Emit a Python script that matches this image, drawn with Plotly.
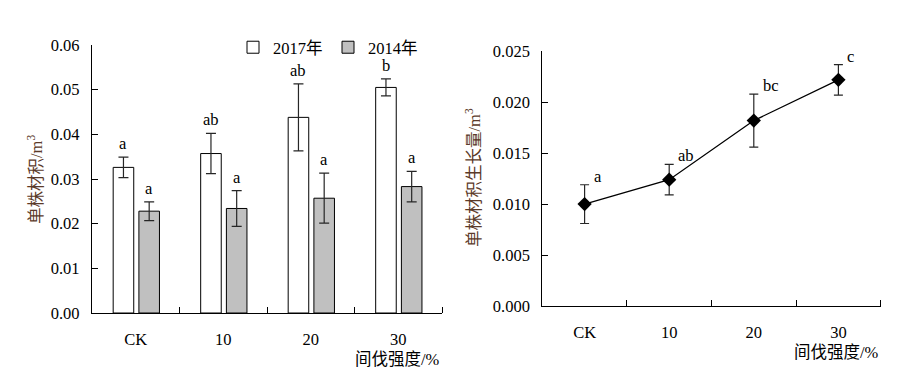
import plotly.graph_objects as go

# ---------------- data ----------------
categories = ["CK", "10", "20", "30"]
vol_2017 = [0.0326, 0.0357, 0.0438, 0.0505]
err_2017 = [0.0023, 0.0045, 0.0075, 0.0019]
vol_2014 = [0.0228, 0.0234, 0.0257, 0.0283]
err_2014 = [0.0021, 0.0040, 0.0056, 0.0034]
letters_2017 = ["a", "ab", "ab", "b"]
letters_2014 = ["a", "a", "a", "a"]

growth = [0.0100, 0.0124, 0.0182, 0.0222]
growth_err = [0.0019, 0.0015, 0.0026, 0.0015]
letters_growth = ["a", "ab", "bc", "c"]

left_yticks = [0.00, 0.01, 0.02, 0.03, 0.04, 0.05, 0.06]
right_yticks = [0.000, 0.005, 0.010, 0.015, 0.020, 0.025]

series_names = ["2017年", "2014年"]
x_title = "间伐强度/%"
y_title_left = "单株材积/m<sup>3</sup>"
y_title_right = "单株材积生长量/m<sup>3</sup>"

# ---------------- style ----------------
W, H = 903, 374
PAGE_OFF = 8  # page body margin in the browser


def px_x(p):
    return (p - PAGE_OFF) / W


def px_y(p):
    return 1 - (p - PAGE_OFF) / H


FONT = "Liberation Serif, 'Times New Roman', 'Noto Sans CJK SC', serif"
FS = 16.5
TITLE_COLOR = "#5b3a29"
ERR_COLOR = "#262626"
BAR_W = 0.235
OFF_2017 = -0.258
OFF_2014 = 0.036

pos = list(range(len(categories)))

fig = go.Figure()

fig.add_trace(go.Bar(
    x=pos, y=vol_2017, name=series_names[0], width=BAR_W, offset=OFF_2017,
    marker=dict(color="white", line=dict(color="black", width=1)),
    error_y=dict(type="data", array=err_2017, color=ERR_COLOR, thickness=1.2, width=5),
    xaxis="x", yaxis="y",
))
fig.add_trace(go.Bar(
    x=pos, y=vol_2014, name=series_names[1], width=BAR_W, offset=OFF_2014,
    marker=dict(color="#c0c0c0", line=dict(color="black", width=1)),
    error_y=dict(type="data", array=err_2014, color=ERR_COLOR, thickness=1.2, width=5),
    xaxis="x", yaxis="y",
))

fig.add_trace(go.Scatter(
    x=pos, y=growth, mode="lines+markers", showlegend=False,
    line=dict(color="black", width=1.3),
    marker=dict(symbol="diamond", size=11, color="black"),
    error_y=dict(type="data", array=growth_err, color=ERR_COLOR, thickness=1.2, width=4.5),
    xaxis="x2", yaxis="y2",
))

annotations = []
for i in pos:
    annotations.append(dict(
        x=i + OFF_2017 + BAR_W / 2, y=vol_2017[i] + err_2017[i], xref="x", yref="y",
        text=letters_2017[i], showarrow=False, yanchor="bottom", yshift=2,
        font=dict(family=FONT, size=FS, color="black")))
    annotations.append(dict(
        x=i + OFF_2014 + BAR_W / 2, y=vol_2014[i] + err_2014[i], xref="x", yref="y",
        text=letters_2014[i], showarrow=False, yanchor="bottom", yshift=2,
        font=dict(family=FONT, size=FS, color="black")))
    annotations.append(dict(
        x=i, y=growth[i] + growth_err[i], xref="x2", yref="y2",
        text=letters_growth[i], showarrow=False, xanchor="left", yanchor="bottom",
        xshift=7, yshift=-3,
        font=dict(family=FONT, size=FS, color="black")))

# axis titles
annotations += [
    dict(x=1, xref="x domain", y=px_y(359), yref="paper", text=x_title,
         showarrow=False, xanchor="right", yanchor="middle",
         font=dict(family=FONT, size=FS, color="black")),
    dict(x=1, xref="x2 domain", y=px_y(352), yref="paper", text=x_title,
         showarrow=False, xanchor="right", yanchor="middle",
         font=dict(family=FONT, size=FS, color="black")),
    dict(x=px_x(35), xref="paper", y=px_y(180), yref="paper", text=y_title_left,
         showarrow=False, textangle=-90, xanchor="center", yanchor="middle",
         font=dict(family=FONT, size=FS, color=TITLE_COLOR)),
    dict(x=px_x(473), xref="paper", y=px_y(178), yref="paper", text=y_title_right,
         showarrow=False, textangle=-90, xanchor="center", yanchor="middle",
         font=dict(family=FONT, size=FS, color=TITLE_COLOR)),
]

xaxis_common = dict(
    range=[-0.5, 3.5], tickmode="array", tickvals=pos, ticktext=categories,
    ticks="", showline=True, linecolor="black", linewidth=1.2, showgrid=False,
    zeroline=False, ticklabelstandoff=11, automargin=False,
    tickfont=dict(family=FONT, size=FS, color="black"),
    minor=dict(tickmode="array", tickvals=[p + 0.5 for p in pos], ticks="inside",
               ticklen=6, tickcolor="black", tickwidth=1.2, showgrid=False),
)
yaxis_common = dict(
    ticks="inside", ticklen=6, tickcolor="black", tickwidth=1.2,
    showline=True, linecolor="black", linewidth=1.2, showgrid=False, zeroline=False,
    ticklabelstandoff=8, automargin=False,
    tickfont=dict(family=FONT, size=FS, color="black"),
)

fig.update_layout(
    width=W, height=H, margin=dict(l=0, r=0, t=0, b=0, autoexpand=False),
    paper_bgcolor="white", plot_bgcolor="white",
    barmode="overlay",
    font=dict(family=FONT, size=FS, color="black"),
    xaxis=dict(domain=[px_x(92), px_x(442)], anchor="y", **xaxis_common),
    yaxis=dict(domain=[px_y(313), px_y(45)], anchor="x", range=[0, 0.06],
               tickmode="array", tickvals=left_yticks,
               ticktext=[f"{v:.2f}" for v in left_yticks], **yaxis_common),
    xaxis2=dict(domain=[px_x(542.3), px_x(880.7)], anchor="y2", **xaxis_common),
    yaxis2=dict(domain=[px_y(306), px_y(51.3)], anchor="x2", range=[0, 0.025],
                tickmode="array", tickvals=right_yticks,
                ticktext=[f"{v:.3f}" for v in right_yticks], **yaxis_common),
    legend=dict(orientation="h", x=px_x(233), xanchor="left", y=px_y(30),
                yanchor="top", bgcolor="rgba(0,0,0,0)",
                font=dict(family=FONT, size=FS, color="black"),
                entrywidth=50, entrywidthmode="pixels", itemwidth=30),
    annotations=annotations,
)

fig.write_html("out.html")
